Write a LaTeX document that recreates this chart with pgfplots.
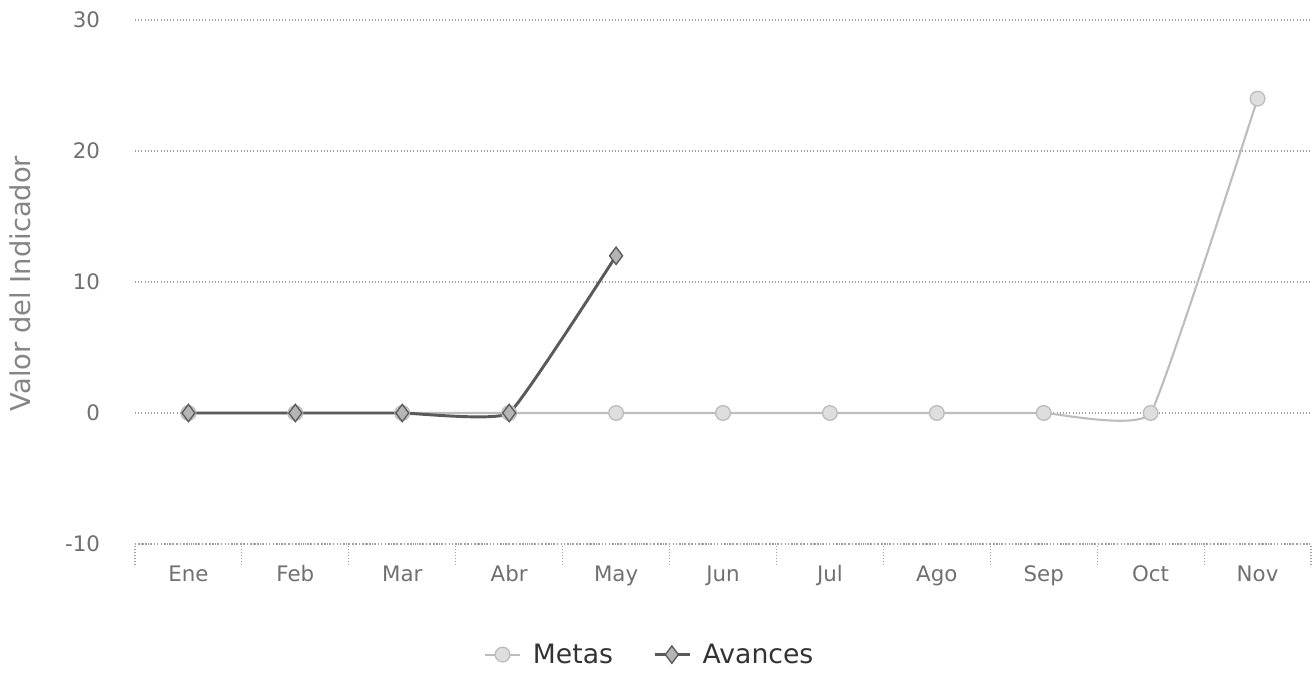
\documentclass[border=0pt]{standalone}
\usepackage{pgfplots}
\pgfplotsset{compat=1.18}
\usepackage{fontspec}
\setmainfont{DejaVu Sans}
\definecolor{txtc}{HTML}{707070}
\definecolor{gridc}{HTML}{A0A0A0}
\definecolor{metasc}{HTML}{BDBDBD}
\definecolor{avancesc}{HTML}{5A5A5A}
\begin{document}
\begin{tikzpicture}
\useasboundingbox (-101.25pt,-96pt) rectangle (882.75pt,408pt);
\begin{axis}[
    scale only axis,
    width=882pt, height=393pt,
    xmin=-0.5, xmax=10.5,
    ymin=-10, ymax=30,
    ytick={-10,0,10,20,30},
    xtick={0,...,10},
    xticklabels={Ene,Feb,Mar,Abr,May,Jun,Jul,Ago,Sep,Oct,Nov},
    minor xtick={-0.5,0.5,...,10.5},
    major tick length=0pt,
    minor tick length=15pt,
    tick align=outside,
    xtick pos=bottom,
    ytick style={draw=none},
    minor tick style={draw=gridc, dotted, line width=0.8pt},
    axis line style={draw=none},
    axis x line*=bottom,
    x axis line style={draw=gridc, dotted, line width=0.8pt},
    ymajorgrids,
    major grid style={draw=gridc, dotted, line width=0.8pt},
    tick label style={font=\fontsize{16}{18}\selectfont, text=txtc},
    /pgf/number format/assume math mode=true,
    yticklabel style={anchor=east, inner sep=0pt, xshift=-26pt},
    xticklabel style={anchor=base, inner sep=0pt, yshift=-28pt},
    ylabel={Valor del Indicador},
    ylabel style={at={(axis description cs:-0.0975,0.497)}, anchor=center,
        font=\fontsize{20.5}{22}\selectfont, text=txtc!85},
    legend style={at={(axis description cs:0.438,-0.211)}, anchor=center,
        draw=none, fill=none, legend columns=2,
        font=\fontsize{20}{22}\selectfont, text=black!80,
        /tikz/every odd column/.append style={column sep=7pt},
        /tikz/every even column/.append style={column sep=28pt}},
    legend image code/.code={
        \draw[#1, mark repeat=2, mark phase=2] plot coordinates {(0pt,0pt) (13pt,0pt) (26pt,0pt)};},
]
\addplot[metasc, line width=1.6pt, smooth, tension=0.2,
    mark=*, mark size=5.5pt, mark options={fill=metasc!50, draw=metasc, line width=1pt}]
    coordinates {(0,0) (1,0) (2,0) (3,0) (4,0) (5,0) (6,0) (7,0) (8,0) (9,0) (10,24)};
\addplot[avancesc, line width=2.2pt, smooth, tension=0.2,
    mark=diamond*, mark size=6.5pt, mark options={fill=avancesc!45, draw=avancesc, line width=1pt}]
    coordinates {(0,0) (1,0) (2,0) (3,0) (4,12)};
\legend{Metas, Avances}
\end{axis}
\end{tikzpicture}
\end{document}
